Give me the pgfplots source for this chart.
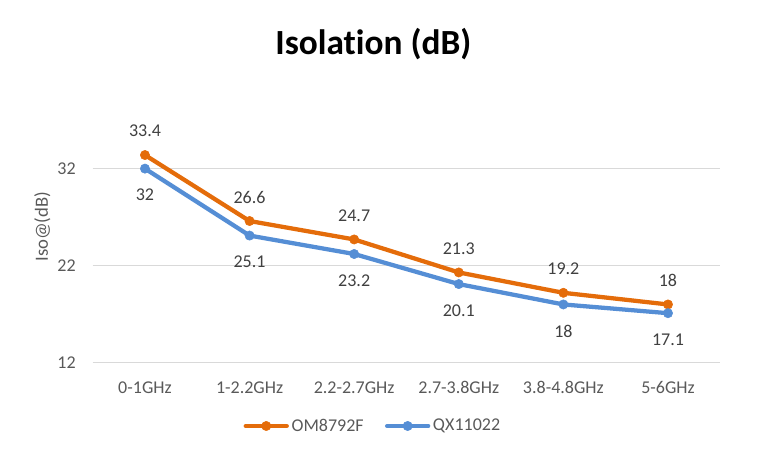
\documentclass[border=0pt]{standalone}
\usepackage{pgfplots}
\pgfplotsset{compat=1.18}
\usepackage{fontspec}
\setmainfont{Carlito}[RawFeature={-liga;-dlig;-clig}]
\definecolor{orng}{HTML}{E46C0A}
\definecolor{blu}{HTML}{558ED5}
\definecolor{tickgray}{HTML}{595959}
\definecolor{lblgray}{HTML}{404040}
\definecolor{gridgray}{HTML}{D9D9D9}
\begin{document}
\begin{tikzpicture}
\useasboundingbox (-69.5pt,-73.7pt) rectangle (511.0pt,272.0pt);
\begin{axis}[
  at={(0,0)}, anchor=south west, scale only axis,
  width=470.7pt, height=189.2pt,
  xmin=-0.5, xmax=5.5, ymin=12, ymax=38,
  xtick={0,...,5},
  xticklabels={0-1GHz,1-2.2GHz,2.2-2.7GHz,2.7-3.8GHz,3.8-4.8GHz,5-6GHz},
  ytick={12,22,32},
  ymajorgrids, grid style={draw=gridgray, line width=0.9pt},
  axis line style={draw=none},
  major tick length=0pt,
  tick label style={font=\fontsize{13.5}{16}\selectfont, text=tickgray},
  /pgf/number format/assume math mode=true,
  xticklabel style={anchor=center, inner sep=0pt, yshift=-18.6pt},
  yticklabel style={anchor=east, inner sep=0pt, xshift=-12.5pt},
  ylabel={Iso@(dB)},
  ylabel style={at={(axis description cs:-0.080,0.539)}, anchor=center, font=\fontsize{14}{16}\selectfont, text=tickgray, inner sep=0pt},
  legend style={at={(axis description cs:0.447,-0.251)}, anchor=center, draw=none, fill=none,
    legend columns=2, font=\fontsize{13.5}{16}\selectfont, text=tickgray,
    /tikz/every even column/.append style={column sep=14pt}},
  legend image code/.code={\draw[#1, line cap=round, mark repeat=2, mark phase=2] plot coordinates {(0pt,0pt) (15.4pt,0pt) (30.8pt,0pt)};},
  nodes near coords,
  nodes near coords style={font=\fontsize{13.5}{16}\selectfont, text=lblgray, anchor=center, inner sep=0pt},
  point meta=explicit symbolic,
]
\addplot[orng, line width=3.2pt, line join=round, mark=*, mark size=3.5pt, mark options={fill=orng, draw=orng, line width=0.4pt, solid},
  nodes near coords style={yshift=18pt}]
  coordinates {(0,33.4)[33.4] (1,26.6)[26.6] (2,24.7)[24.7] (3,21.3)[21.3] (4,19.2)[19.2] (5,18)[18]};
\addlegendentry{OM8792F}
\addplot[blu, line width=3.2pt, line join=round, mark=*, mark size=3.5pt, mark options={fill=blu, draw=blu, line width=0.4pt, solid},
  nodes near coords style={yshift=-19.9pt}]
  coordinates {(0,32)[32] (1,25.1)[25.1] (2,23.2)[23.2] (3,20.1)[20.1] (4,18)[18] (5,17.1)[17.1]};
\addlegendentry{QX11022}
\end{axis}
\node[anchor=base, inner sep=0pt, font=\fontsize{26.5}{30}\selectfont\bfseries] at (210.5pt,230.8pt) {Isolation (dB)};
\end{tikzpicture}
\end{document}
